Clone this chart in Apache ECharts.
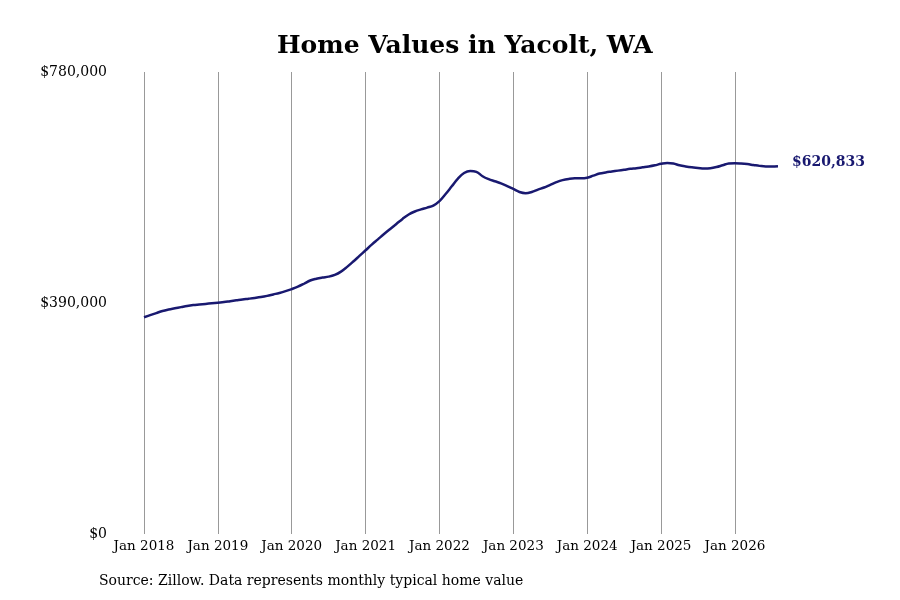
<!DOCTYPE html>
<html>
<head>
<meta charset="utf-8">
<script src="https://cdn.jsdelivr.net/npm/echarts@6/dist/echarts.min.js"></script>
<style>html,body{margin:0;padding:0;background:#fff}#c{width:900px;height:600px}</style>
</head>
<body>
<div id="c"></div>
<script>
const months = [];
for (let y = 2018; y <= 2026; y++) {
  for (let m = 1; m <= 12; m++) {
    if (y === 2026 && m > 8) break;
    months.push(y + '-' + String(m).padStart(2, '0'));
  }
}
const values2018 = [366000, 369500, 373000, 376500, 379000, 381000, 383000, 385000, 386500, 387500, 388500, 389500];
const values2019 = [390500, 391500, 393000, 394500, 396000, 397200, 398500, 400000, 402000, 404500, 407000, 410000];
const values2020 = [413500, 417500, 422500, 428000, 431000, 433000, 434500, 437500, 443000, 451000, 460000, 469500];
const values2021 = [479000, 488500, 497500, 506500, 515000, 523500, 532000, 539500, 544500, 548000, 551000, 554500];
const values2022 = [562000, 574000, 587000, 600000, 609500, 613000, 611500, 604000, 599000, 595500, 592000, 587500];
const values2023 = [582500, 577500, 575500, 577500, 581500, 585000, 589500, 594000, 597500, 599500, 600500, 600500];
const values2024 = [601500, 605000, 608500, 610500, 612000, 613500, 615000, 616500, 617500, 619000, 620500, 622500];
const values2025 = [625000, 626500, 625500, 622500, 620500, 619000, 618000, 617000, 617500, 619500, 622500, 625500];
const values2026 = [626000, 625500, 624500, 623000, 621500, 620500, 620500, 620833];
const homeValues = [].concat(values2018, values2019, values2020, values2021, values2022, values2023, values2024, values2025, values2026);
const yTicks = [0, 390000, 780000];
const monthNames = ['Jan','Feb','Mar','Apr','May','Jun','Jul','Aug','Sep','Oct','Nov','Dec'];
const fmt = v => '$' + Math.round(v).toLocaleString('en-US');

const chart = echarts.init(document.getElementById('c'));
chart.setOption({
  animation: false,
  backgroundColor: '#fff',
  title: {
    text: 'Home Values in Yacolt, WA',
    left: 272, top: 29,
    textStyle: { fontFamily: 'DejaVu Serif', fontWeight: 'bold', fontSize: 25, color: '#000' }
  },
  graphic: [{
    type: 'text', left: 99, top: 574,
    style: { text: 'Source: Zillow. Data represents monthly typical home value', font: '14px "DejaVu Serif"', fill: '#000' }
  }],
  grid: { left: 144, right: 122, top: 72, bottom: 66 },
  xAxis: {
    type: 'category',
    data: months,
    boundaryGap: false,
    axisLine: { show: false },
    axisTick: { show: false },
    axisLabel: {
      interval: (i, v) => v.endsWith('-01'),
      formatter: v => monthNames[parseInt(v.slice(5)) - 1] + ' ' + v.slice(0, 4),
      fontFamily: 'DejaVu Serif', fontSize: 13.5, color: '#000', margin: 5
    },
    splitLine: { show: true, interval: (i, v) => v.endsWith('-01'), lineStyle: { color: '#999', width: 1 } }
  },
  yAxis: {
    type: 'value',
    min: yTicks[0], max: yTicks[2], interval: yTicks[1],
    axisLine: { show: false },
    axisTick: { show: false },
    splitLine: { show: false },
    axisLabel: {
      formatter: fmt,
      fontFamily: 'DejaVu Serif', fontSize: 14, color: '#000', margin: 37
    }
  },
  series: [{
    type: 'line',
    data: homeValues,
    smooth: 0.4,
    showSymbol: false,
    lineStyle: { color: '#191970', width: 2.5 },
    endLabel: {
      show: true,
      formatter: p => fmt(p.value),
      fontFamily: 'DejaVu Serif', fontWeight: 'bold', fontSize: 14, color: '#191970', distance: 14,
      offset: [0, -4]
    }
  }]
});
</script>
</body>
</html>
